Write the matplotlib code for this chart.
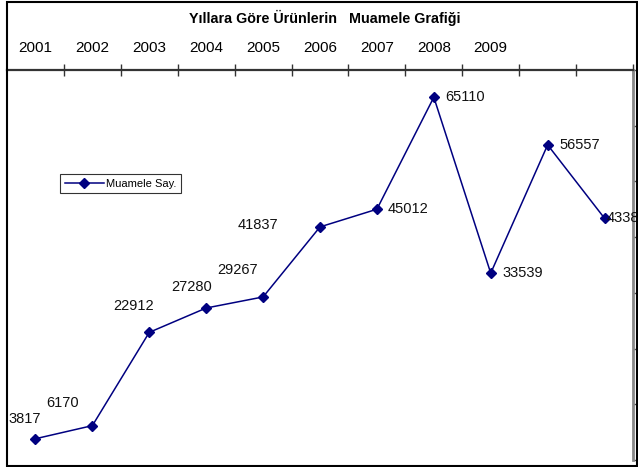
import matplotlib.pyplot as plt
from matplotlib.patches import Rectangle

plt.rcParams['font.family'] = ['Liberation Sans', 'DejaVu Sans']

# veriler
yillar = ['2001', '2002', '2003', '2004', '2005', '2006', '2007', '2008', '2009']
muamele = [3817, 6170, 22912, 27280, 29267, 41837, 45012, 65110, 33539, 56557, 43381]
# etiket kaydirmalari (piksel)
etiket_dx = [-11, -30, -16, -15, -26, -62, 11, 11, 12, 12, 2]
etiket_dy = [20, 23, 26, 21, 27, 2, 0, 0, 0, 0, 0]

W, H = 638, 467
fig = plt.figure(figsize=(W / 100, H / 100), dpi=100)
ax = fig.add_axes([7 / W, 7 / H, 626 / W, 390 / H])

n = len(muamele)
x = list(range(n))
ax.plot(x, muamele, color='#000080', lw=1.1, marker='D', markersize=5,
        label='Muamele Say.')

for i, v in enumerate(muamele):
    ha = 'left' if etiket_dx[i] > 0 else 'center'
    ax.annotate(str(v), (x[i], v), xytext=(etiket_dx[i], etiket_dy[i]),
                textcoords='offset pixels', ha=ha, va='center',
                fontsize=10.5, color='#111111', annotation_clip=False)

ax.set_xlim(-0.5, n - 0.5)
ax.set_ylim(0, 70000)

# ust eksen: kategori sinirlarinda cizgiler, ortada yillar
ax.xaxis.set_ticks_position('top')
ax.set_xticks([i + 0.5 for i in range(n)])
ax.set_xticklabels([])
ax.set_xticks(x, minor=True)
ax.set_xticklabels(yillar + [''] * (n - len(yillar)), minor=True, fontsize=11)
ax.tick_params(axis='x', which='major', direction='inout', length=9,
               width=1, color='#333333')
ax.tick_params(axis='x', which='minor', length=0, pad=11)

# sag eksen
ax.yaxis.set_ticks_position('right')
ax.set_yticks(range(0, 70001, 10000))
ax.set_yticklabels([])
ax.tick_params(axis='y', direction='out', length=4, width=1, color='#555555')

ax.spines['left'].set_visible(False)
ax.spines['bottom'].set_visible(False)
ax.spines['top'].set_color('#333333')
ax.spines['top'].set_linewidth(1.6)
ax.spines['right'].set_color('#888888')
ax.spines['right'].set_linewidth(2)

leg = ax.legend(loc='upper left', bbox_to_anchor=(0.085, 0.733), fontsize=8,
                frameon=True, fancybox=False, borderpad=0.4,
                handlelength=3.5, handletextpad=0.2, borderaxespad=0)
leg.get_frame().set_edgecolor('black')
leg.get_frame().set_linewidth(0.8)

fig.text(325 / W, 1 - 18 / H, 'Yıllara Göre Ürünlerin   Muamele Grafiği',
         ha='center', va='center', fontsize=10.3, fontweight='bold')

# grafik alani cercevesi
fig.patches.append(Rectangle((7 / W, 1 / H), 630 / W, 464 / H,
                             transform=fig.transFigure, fill=False,
                             edgecolor='black', lw=1.5))

fig.savefig('out.png', dpi=100)
plt.close()
